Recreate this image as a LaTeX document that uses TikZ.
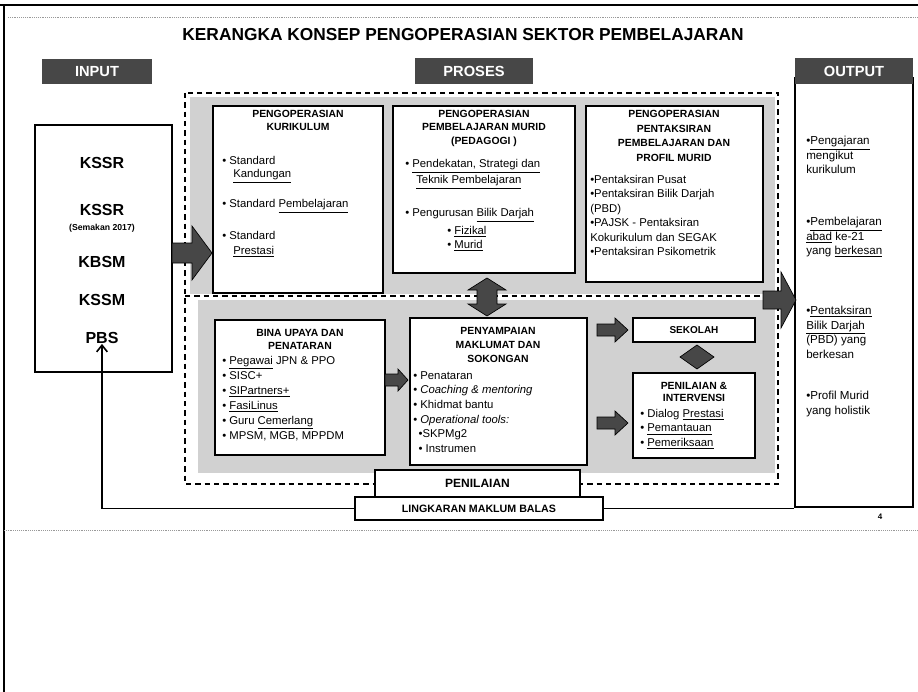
\documentclass[tikz,border=0pt]{standalone}
\usepackage{fontspec}
\setmainfont{Liberation Sans}
\usetikzlibrary{fit,shapes.geometric,arrows.meta}
\begin{document}
\begin{tikzpicture}[x=0.75pt,y=-0.75pt,
  darkfill/.style={fill=black!72},
  tex/.style={fill=black!18},
  box/.style={draw,line width=1.1pt,fill=white,inner sep=0pt},
  lbl/.style={darkfill,inner sep=0pt},
  lbltxt/.style={text=white,inner sep=0pt,font=\fontsize{11}{13}\selectfont\bfseries},
  ttl/.style={font=\fontsize{7.8}{9.75}\selectfont\bfseries,align=center,anchor=north,inner sep=0pt},
  itm/.style={font=\fontsize{8.5}{11.25}\selectfont,anchor=west,inner sep=0pt},
  lst/.style={font=\fontsize{8.5}{11.25}\selectfont,align=left,anchor=north west,inner sep=0pt},
  inp/.style={font=\fontsize{12}{14}\selectfont\bfseries,inner sep=0pt},
  dashbox/.style={line width=1.2pt,dash pattern=on 4pt off 3pt},
  barrow/.style={darkfill,draw=black,line width=0.5pt}
]
\useasboundingbox (0,0) rectangle (918,692);
% page frame
\draw[line width=1.5pt] (0,5) -- (918,5);
\draw[line width=1pt] (4,5) -- (4,692);
\draw[black!40,densely dotted] (8,17) -- (918,17);
\draw[black!40,densely dotted] (4,530) -- (918,530);

% title
\node[font=\fontsize{13}{15}\selectfont\bfseries] (title) at (463,35) {KERANGKA KONSEP PENGOPERASIAN SEKTOR PEMBELAJARAN};

% labels
\node[lbl,fit={(42,59) (152,84)}] (inlbl) {};
\node[lbltxt] at (inlbl.center) {INPUT};
\node[lbl,fit={(415,58) (533,84)}] (prlbl) {};
\node[lbltxt] at (prlbl.center) {PROSES};

% input box
\node[box,fit={(35,125) (172,372)}] (inbox) {};
\node[inp] (i1) at (102,163) {KSSR};
\node[inp] (i2) at (102,210) {KSSR};
\node[inner sep=0pt,font=\fontsize{6.5}{8}\selectfont\bfseries] (i2b) at (102,228) {(Semakan 2017)};
\node[inp] (i3) at (102,262) {KBSM};
\node[inp] (i4) at (102,300) {KSSM};
\node[inp] (pbs) at (102,338) {PBS};

% output box
\node[box,fit={(795,78) (913,507)}] (outbox) {};
\node[lbl,fit={(795,58) (913,84)}] (outlbl) {};
\node[lbltxt] at (outlbl.center) {OUTPUT};
\node[lst,font=\fontsize{8.7}{10.9}\selectfont] (o1) at (806,136) {•\underline{Pengajaran}\\mengikut\\kurikulum};
\node[lst,font=\fontsize{8.7}{10.9}\selectfont] (o2) at (806,217) {•\underline{Pembelajaran}\\\underline{abad} ke-21\\yang \underline{berkesan}};
\node[lst,font=\fontsize{8.7}{10.9}\selectfont] (o3) at (806,306) {•\underline{Pentaksiran}\\\underline{Bilik Darjah}\\(PBD) yang\\berkesan};
\node[lst,font=\fontsize{8.7}{10.9}\selectfont] (o4) at (806,391) {•Profil Murid\\yang holistik};

% proses background
\fill[tex] (190,97) rectangle (775,294);
\fill[tex] (198,300) rectangle (775,473);
\draw[dashbox] (185,93) rectangle (778,484);
\draw[dashbox] (185,296) -- (778,296);

% top boxes
\node[box,fit={(213,106) (383,293)}] (k1) {};
\node[ttl] (k1t) at (298,110) {PENGOPERASIAN\\KURIKULUM};
\node[itm] (k1a) at (222,160) {• Standard};
\node[itm] (k1b) at (233,176) {\underline{Kandungan}};
\node[itm] (k1c) at (222,206) {• Standard \underline{Pembelajaran}};
\node[itm] (k1d) at (222,235) {• Standard};
\node[itm] (k1e) at (233,252) {\underline{Prestasi}};

\node[box,fit={(393,106) (575,273)}] (k2) {};
\node[ttl,font=\fontsize{7.8}{10}\selectfont\bfseries] (k2t) at (484,110) {PENGOPERASIAN\\PEMBELAJARAN MURID\\(PEDAGOGI )};
\node[itm,font=\fontsize{8.5}{10}\selectfont] (k2a) at (405,166) {• \underline{Pendekatan, Strategi dan}};
\node[itm,font=\fontsize{8.5}{10}\selectfont] (k2b) at (416,182) {\underline{Teknik Pembelajaran}};
\node[itm] (k2c) at (405,215) {• Pengurusan \underline{Bilik Darjah}};
\node[itm] (k2d) at (447,232) {• \underline{Fizikal}};
\node[itm] (k2e) at (447,246) {• \underline{Murid}};

\node[box,fit={(586,106) (763,282)}] (k3) {};
\node[ttl,font=\fontsize{7.8}{11}\selectfont\bfseries] (k3t) at (674,110) {PENGOPERASIAN\\PENTAKSIRAN\\PEMBELAJARAN DAN\\PROFIL MURID};
\node[lst,font=\fontsize{8.5}{10.8}\selectfont] (k3a) at (590,175) {•Pentaksiran Pusat\\•Pentaksiran Bilik Darjah\\(PBD)\\•PAJSK - Pentaksiran\\Kokurikulum dan SEGAK\\•Pentaksiran Psikometrik};

% bottom boxes
\node[box,fit={(215,320) (385,455)}] (b1) {};
\node[ttl] (b1t) at (300,329) {BINA UPAYA DAN\\PENATARAN};
\node[lst] (b1a) at (222,356) {• \underline{Pegawai} JPN \& PPO\\• SISC+\\• \underline{SIPartners+}\\• \underline{FasiLinus}\\• Guru \underline{Cemerlang}\\• MPSM, MGB, MPPDM};

\node[box,fit={(410,318) (587,465)}] (b2) {};
\node[ttl,font=\fontsize{7.8}{10.5}\selectfont\bfseries] (b2t) at (498,327) {PENYAMPAIAN\\MAKLUMAT DAN\\SOKONGAN};
\node[lst,font=\fontsize{8.5}{11}\selectfont] (b2a) at (413,371) {• Penataran\\• \textit{Coaching \& mentoring}\\• Khidmat bantu\\• \textit{Operational tools:}\\\hspace*{4pt}•SKPMg2\\\hspace*{4pt}• Instrumen};

\node[box,fit={(633,318) (755,342)}] (sek) {};
\node[inner sep=0pt,font=\fontsize{7.5}{9}\selectfont\bfseries] at (sek.center) {SEKOLAH};
\node[box,fit={(633,373) (755,458)}] (pi) {};
\node[ttl,font=\fontsize{7.8}{9}\selectfont\bfseries] (pit) at (694,382) {PENILAIAN \&\\INTERVENSI};
\node[lst,font=\fontsize{8.5}{10.8}\selectfont] (pia) at (640,409) {• Dialog \underline{Prestasi}\\• \underline{Pemantauan}\\• \underline{Pemeriksaan}};

% block arrows
\filldraw[barrow] (172,243) -- (192,243) -- (192,226) -- (212,253) -- (192,280) -- (192,263) -- (172,263) -- cycle;
\filldraw[barrow] (763,291) -- (781,291) -- (781,272) -- (796,300) -- (781,328) -- (781,309) -- (763,309) -- cycle;
\filldraw[barrow] (385,374) -- (398,374) -- (398,369) -- (408,380) -- (398,391) -- (398,386) -- (385,386) -- cycle;
\filldraw[barrow] (597,324) -- (615,324) -- (615,318) -- (628,330) -- (615,342) -- (615,336) -- (597,336) -- cycle;
\filldraw[barrow] (597,417) -- (615,417) -- (615,411) -- (628,423) -- (615,435) -- (615,429) -- (597,429) -- cycle;
\filldraw[barrow] (487,278) -- (506,290) -- (497,290) -- (497,304) -- (506,304) -- (487,316) -- (468,304) -- (477,304) -- (477,290) -- (468,290) -- cycle;
\filldraw[barrow] (697,345) -- (714,357) -- (697,369) -- (680,357) -- cycle;

% penilaian / lingkaran
\node[box,fit={(375,470) (580,497)}] (pen) {};
\node[inner sep=0pt,font=\fontsize{9}{11}\selectfont\bfseries] at (pen.center) {PENILAIAN};
\node[box,fit={(355,497) (603,520)}] (lk) {};
\node[inner sep=0pt,font=\fontsize{8}{10}\selectfont\bfseries] at (lk.center) {LINGKARAN MAKLUM BALAS};

% feedback loop
\draw[line width=1.2pt,-{Straight Barb[length=5pt,width=8pt]}] (lk.west) -| (pbs.south);
\draw[line width=1.2pt] (lk.east) -- (lk.east -| outbox.west);

\node[font=\fontsize{6}{7}\selectfont\bfseries] (pg) at (880,517) {4};
\end{tikzpicture}
\end{document}
